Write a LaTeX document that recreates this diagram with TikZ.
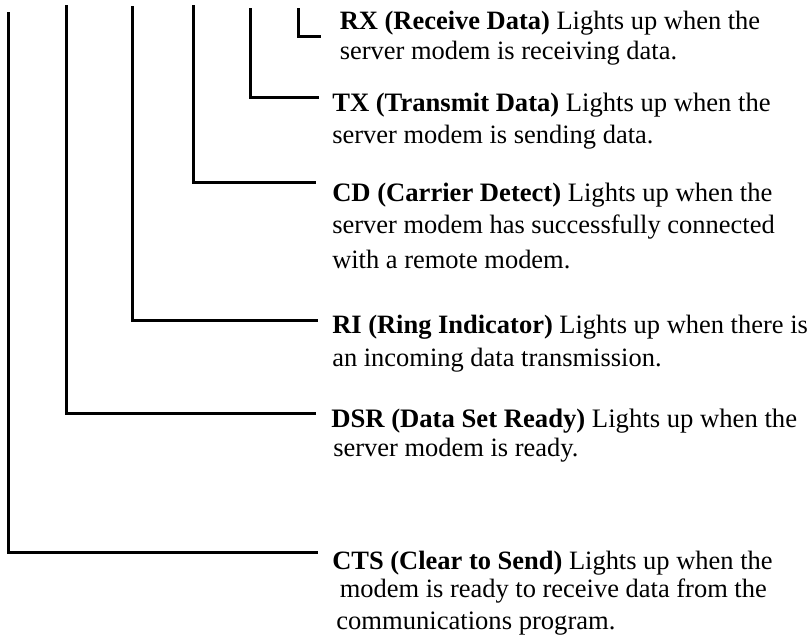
\documentclass[tikz,border=0pt]{standalone}
\usepackage{fontspec}
\setmainfont{Liberation Serif}
\tikzset{lead/.style={draw=black,line width=2.25pt,line cap=butt,line join=miter},
lab/.style={anchor=base west,inner sep=0pt,font=\fontsize{19.85}{24}\selectfont},
labw/.style={lab,font=\fontsize{19.95}{24}\selectfont},
labx/.style={lab,font=\fontsize{20.0}{24}\selectfont}}
\begin{document}
\begin{tikzpicture}[x=0.75pt,y=-0.75pt]
\useasboundingbox (0,0) rectangle (812,636);
\fill[white] (0,0) rectangle (812,636);
% labels
\node[lab] (rxa) at (339.5,29.3) {\textbf{RX (Receive Data)} Lights up when the};
\node[lab] (rxb) at (339.5,59.3) {server modem is receiving data.};
\node[labw] (txa) at (332,111) {\textbf{TX (Transmit Data)} Lights up when the};
\node[lab] (txb) at (332,143.3) {server modem is sending data.};
\node[labw] (cda) at (332,201) {\textbf{CD (Carrier Detect)} Lights up when the};
\node[lab] (cdb) at (332,233) {server modem has successfully connected};
\node[lab] (cdc) at (332,268) {with a remote modem.};
\node[lab] (ria) at (332,333) {\textbf{RI (Ring Indicator)} Lights up when there is};
\node[lab] (rib) at (332,366.7) {an incoming data transmission.};
\node[labx] (dsa) at (331,427.7) {\textbf{DSR (Data Set Ready)} Lights up when the};
\node[lab] (dsb) at (333,456.7) {server modem is ready.};
\node[lab] (cta) at (332,569.3) {\textbf{CTS (Clear to Send)} Lights up when the};
\node[lab] (ctb) at (339.5,597.7) {modem is ready to receive data from the};
\node[labw] (ctc) at (336,629.3) {communications program.};
% leader ends
\coordinate (rxt) at (298.5,8);   \coordinate (rxe) at (321,36);
\coordinate (txt) at (250.5,8);   \coordinate (txe) at (319,97.3);
\coordinate (cdt) at (193.3,5);   \coordinate (cde) at (316,182.3);
\coordinate (rit) at (132.3,6);   \coordinate (rie) at (318,320.7);
\coordinate (dst) at (66.3,5);    \coordinate (dse) at (316,413.3);
\coordinate (ctt) at (8.3,12);    \coordinate (cte) at (318,552.3);
\foreach \a/\b in {rxt/rxe,txt/txe,cdt/cde,rit/rie,dst/dse,ctt/cte}
  \draw[lead] (\a) |- (\b);
\end{tikzpicture}
\end{document}
